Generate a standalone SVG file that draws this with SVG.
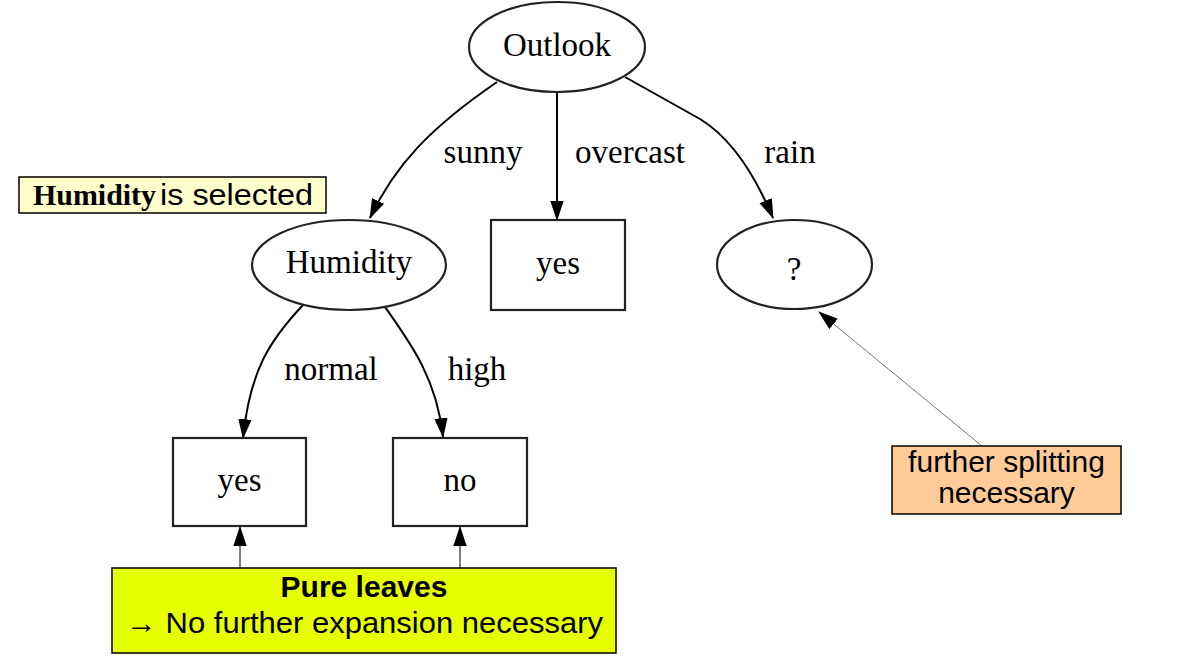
<svg xmlns="http://www.w3.org/2000/svg" width="1192" height="658" viewBox="0 0 1192 658">
<defs>
<style>
.node{fill:#fff;stroke:#222;stroke-width:2.2}
.gt{font-family:"Liberation Serif","Times New Roman",serif;font-size:33px;fill:#000;text-anchor:middle}
.edge{fill:none;stroke:#000;stroke-width:2}
.ptr{fill:none;stroke:#000;stroke-width:1}
.ptrg{fill:none;stroke:#777;stroke-width:1}
.note{stroke:#000;stroke-width:1.5}
.nt{font-family:"Liberation Sans",Arial,sans-serif;font-size:30px;fill:#000}
</style>
<marker id="ah" markerUnits="userSpaceOnUse" markerWidth="20" markerHeight="14" viewBox="0 0 18 12" refX="17" refY="6" orient="auto">
<path d="M0,0 L18,6 L0,12 z" fill="#000"/>
</marker>
</defs>
<rect width="1192" height="658" fill="#fff"/>
<g id="connectors">
<path class="edge" d="M497,82 C430,128 395,165 370,218" marker-end="url(#ah)"/>
<path class="edge" d="M557,92 L557,220" marker-end="url(#ah)"/>
<path class="edge" d="M625,77 L700,119 C728,136 752,168 773,218" marker-end="url(#ah)"/>
<path class="edge" d="M303,305 C270,340 250,370 243,438" marker-end="url(#ah)"/>
<path class="edge" d="M385,307 C412,345 437,380 443,437" marker-end="url(#ah)"/>
<path class="ptr" d="M240,568 L240,527" marker-end="url(#ah)"/>
<path class="ptr" d="M460,568 L460,527" marker-end="url(#ah)"/>
<path class="ptrg" d="M982,446 L819,312" marker-end="url(#ah)"/>
<text class="gt" x="483" y="163">sunny</text>
<text class="gt" x="630" y="163">overcast</text>
<text class="gt" x="790" y="163">rain</text>
<text class="gt" x="331" y="380">normal</text>
<text class="gt" x="477" y="380">high</text>
</g>
<g id="outlook">
<ellipse class="node" cx="557" cy="47" rx="88" ry="45"/>
<text class="gt" x="557" y="56">Outlook</text>
</g>
<g id="humidity">
<ellipse class="node" cx="349" cy="265" rx="97" ry="45"/>
<text class="gt" x="349" y="273">Humidity</text>
</g>
<g id="yes-overcast">
<rect class="node" x="491" y="220" width="134" height="90"/>
<text class="gt" x="558" y="274">yes</text>
</g>
<g id="rain-unknown">
<ellipse class="node" cx="794.5" cy="264.5" rx="77.5" ry="44.5"/>
<text class="gt" x="794" y="280">?</text>
</g>
<g id="yes-normal">
<rect class="node" x="173" y="438" width="133" height="88"/>
<text class="gt" x="239.5" y="491">yes</text>
</g>
<g id="no-high">
<rect class="node" x="393" y="438" width="134" height="88"/>
<text class="gt" x="460" y="491">no</text>
</g>
<g id="note-humidity">
<rect class="note" x="19" y="177" width="307" height="36" fill="#ffffcc"/>
<text x="33" y="205" font-family="'Liberation Serif','Times New Roman',serif" font-weight="bold" font-size="30" textLength="123" lengthAdjust="spacingAndGlyphs">Humidity</text>
<text class="nt" x="160" y="205" font-size="31" textLength="153" lengthAdjust="spacingAndGlyphs">is selected</text>
</g>
<g id="note-pure">
<rect class="note" x="112" y="568" width="504" height="85" fill="#e5ff00"/>
<text class="nt" x="364" y="597" text-anchor="middle" font-weight="bold">Pure leaves</text>
<text class="nt" x="126" y="633" textLength="477" lengthAdjust="spacingAndGlyphs">→ No further expansion necessary</text>
</g>
<g id="note-further">
<rect class="note" x="892" y="446" width="229" height="68" fill="#ffcc99"/>
<text class="nt" x="1006.5" y="472" text-anchor="middle">further splitting</text>
<text class="nt" x="1006.5" y="503" text-anchor="middle">necessary</text>
</g>
</svg>
